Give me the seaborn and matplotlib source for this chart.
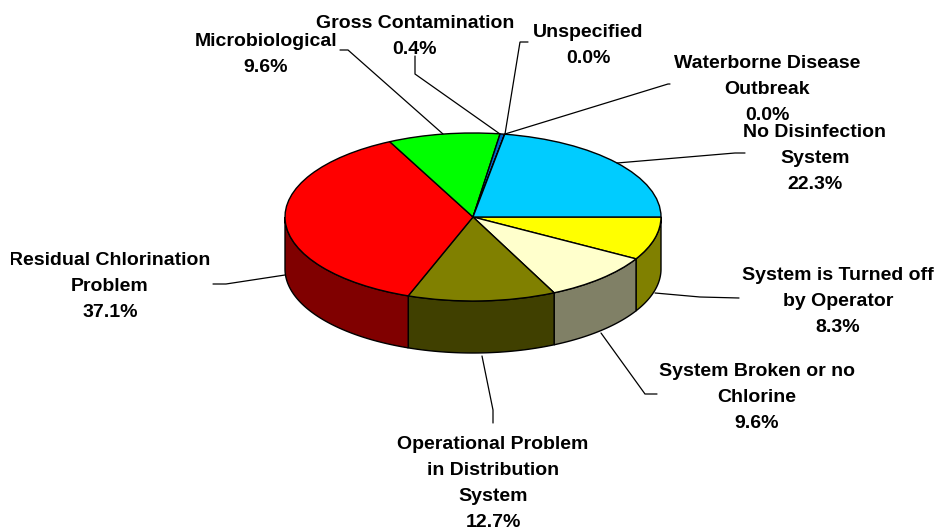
import numpy as np
import matplotlib
matplotlib.use("Agg")
import matplotlib.pyplot as plt
import seaborn as sns

# ------------------------------------------------------------
# DATA
# ------------------------------------------------------------
categories = ["System is Turned off\nby Operator", "System Broken or no\nChlorine",
              "Operational Problem\nin Distribution\nSystem", "Residual Chlorination\nProblem",
              "Microbiological", "Gross Contamination", "Unspecified",
              "Waterborne Disease\nOutbreak", "No Disinfection\nSystem"]
values = [8.3, 9.6, 12.7, 37.1, 9.6, 0.4, 0.0, 0.0, 22.3]
top_colors = ["#FFFF00", "#FFFFCC", "#808000", "#FF0000", "#00FF00", "#0066CC", "#000080", "#FF00FF", "#00CCFF"]
side_colors = ["#808000", "#808066", "#404000", "#800000", "#008000", "#003366", "#000040", "#800080", "#006680"]

# label centre (x, top of text) in pixels
label_pos = [(838, 267), (757, 363), (493, 436), (110, 252), (266, 33), (415, 15), (588, 24), (767, 55), (815, 124)]
# leader lines in pixels
leaders = [
    [(655, 293), (700, 297), (739, 298)],
    [(601, 333), (645, 394), (657, 394)],
    [(482, 356), (493, 410), (493, 423)],
    [(285, 275), (226, 284), (213, 284)],
    [(443, 134), (348, 50), (340, 50)],
    [(500, 134), (415, 74), (415, 56)],
    [(505, 134), (520, 42), (528, 42)],
    [(505, 134), (668, 84), (670, 84)],
    [(617, 163), (735, 153), (745, 153)],
]

W, H = 937, 531
CX, CY, RX, RY, DEPTH = 473, 217, 188, 84, 52

sns.set_theme(style="white")
plt.rcParams["font.family"] = ["Liberation Sans", "DejaVu Sans"]

fig = plt.figure(figsize=(W / 100, H / 100), dpi=100)

# overlay in pixel coordinates for labels and leaders
ax_txt = fig.add_axes([0, 0, 1, 1], zorder=3)
ax_txt.set_xlim(0, W)
ax_txt.set_ylim(H, 0)
ax_txt.axis("off")

# pie axes covers exactly the top ellipse
ax = fig.add_axes([(CX - RX) / W, 1 - (CY + RY) / H, 2 * RX / W, 2 * RY / H], zorder=2)
ax.pie(values, colors=top_colors, startangle=0, counterclock=False, radius=1,
       wedgeprops={"edgecolor": "black", "linewidth": 1})
ax.set_aspect("auto")

# side walls, only the front half of the ellipse is visible
edges = np.concatenate([[0], np.cumsum(values)]) * 3.6
d = DEPTH / RY
for i in range(len(values)):
    a, b = edges[i], min(edges[i + 1], 180)
    if a >= 180 or b <= a:
        continue
    t = np.radians(np.linspace(a, b, 60))
    xs = np.concatenate([np.cos(t), np.cos(t[::-1])])
    ys = np.concatenate([-np.sin(t), -np.sin(t[::-1]) - d])
    ax.fill(xs, ys, facecolor=side_colors[i], edgecolor="black", linewidth=1,
            clip_on=False, zorder=0)
ax.set_xlim(-1, 1)
ax.set_ylim(-1, 1)

for pts in leaders:
    p = np.array(pts)
    ax_txt.plot(p[:, 0], p[:, 1], color="black", linewidth=0.9, solid_joinstyle="miter")

for name, val, (x, y) in zip(categories, values, label_pos):
    t = ax_txt.text(x, y, f"{name}\n{val:.1f}%", ha="center", va="top", fontsize=14,
                    fontweight="bold", color="black", linespacing=1.68)
    # the left label runs off the plot area in the original
    if name.startswith("Residual"):
        clip = plt.Rectangle((11, 0), W, H, transform=ax_txt.transData)
        t.set_clip_path(clip)
        t.set_clip_on(True)

fig.savefig("out.png", dpi=100)
